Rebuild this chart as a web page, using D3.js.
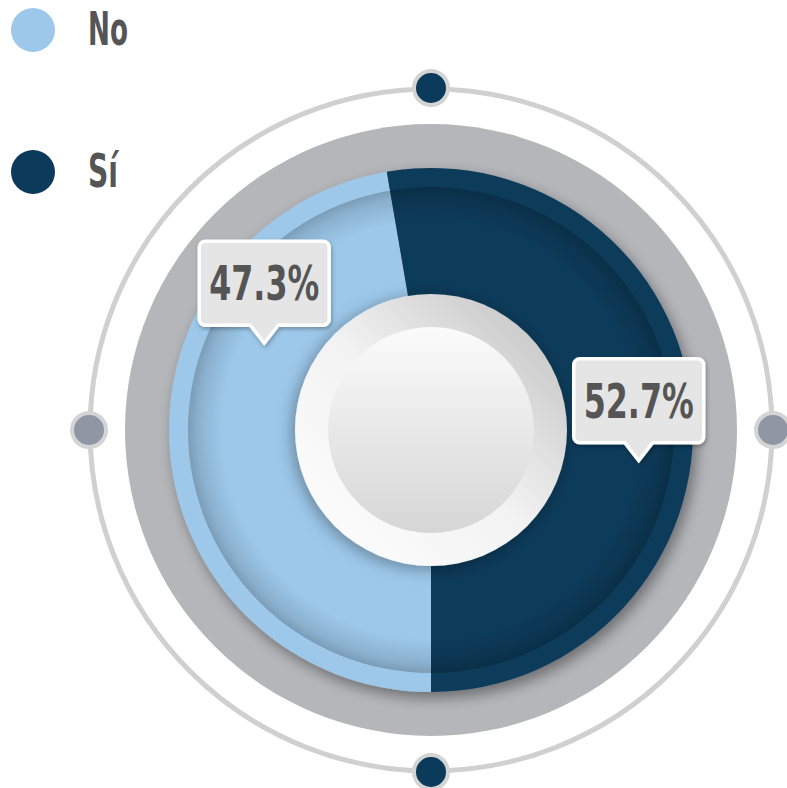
<!DOCTYPE html>
<html><head><meta charset="utf-8">
<script src="https://cdn.jsdelivr.net/npm/d3@7"></script>
<style>html,body{margin:0;padding:0;background:#fff;}svg{display:block;}</style>
</head><body>
<svg id="chart" width="787" height="788"></svg>
<script>
const categories = ["No", "Sí"];
const values = [47.3, 52.7];
const labels = ["47.3%", "52.7%"];
const colors = ["#9dc8ea", "#0b3a5a"];

const svg = d3.select("#chart");
const defs = svg.append("defs");
const cx = 431, cy = 430;
const font = "'Liberation Sans Narrow','DejaVu Sans Condensed','Roboto Condensed',sans-serif";

// gradients & filters
const g1 = defs.append("linearGradient").attr("id","plateOuter").attr("x1","0").attr("y1","1").attr("x2","1").attr("y2","0");
g1.append("stop").attr("offset","0").attr("stop-color","#ffffff");
g1.append("stop").attr("offset","0.5").attr("stop-color","#f2f2f2");
g1.append("stop").attr("offset","1").attr("stop-color","#bdbdbd");
const g2 = defs.append("linearGradient").attr("id","plateInner").attr("x1","0").attr("y1","0").attr("x2","0").attr("y2","1");
g2.append("stop").attr("offset","0").attr("stop-color","#fbfbfb");
g2.append("stop").attr("offset","1").attr("stop-color","#d6d6d6");
const rg = defs.append("radialGradient").attr("id","innerShade").attr("gradientUnits","userSpaceOnUse")
  .attr("cx",0).attr("cy",0).attr("r",243);
rg.append("stop").attr("offset","0.86").attr("stop-color","#000").attr("stop-opacity",0);
rg.append("stop").attr("offset","0.96").attr("stop-color","#000").attr("stop-opacity",0.12);
rg.append("stop").attr("offset","1").attr("stop-color","#000").attr("stop-opacity",0.22);
const f = defs.append("filter").attr("id","shadow").attr("x","-30%").attr("y","-30%").attr("width","160%").attr("height","160%");
f.append("feDropShadow").attr("dx",4).attr("dy",6).attr("stdDeviation",7).attr("flood-color","#000").attr("flood-opacity",0.4);
const f3 = defs.append("filter").attr("id","plateShadow").attr("x","-30%").attr("y","-30%").attr("width","160%").attr("height","160%");
f3.append("feDropShadow").attr("dx",-3).attr("dy",3).attr("stdDeviation",8).attr("flood-color","#000").attr("flood-opacity",0.35);
const f2 = defs.append("filter").attr("id","shadowSm").attr("x","-30%").attr("y","-30%").attr("width","160%").attr("height","160%");
f2.append("feDropShadow").attr("dx",1).attr("dy",2).attr("stdDeviation",2).attr("flood-color","#000").attr("flood-opacity",0.3);

const g = svg.append("g").attr("transform",`translate(${cx},${cy})`);

// thin outer ring
g.append("circle").attr("r",341).attr("fill","none").attr("stroke","#d0d0d0").attr("stroke-width",5);
// gray ring
g.append("circle").attr("r",306).attr("fill","#b5b6ba");

// pie
const pie = d3.pie().sort(null).value(d => d).startAngle(Math.PI).endAngle(3*Math.PI);
const arcs = pie(values);
const arcOuter = d3.arc().innerRadius(120).outerRadius(262);
const donut = g.append("g").attr("filter","url(#shadow)");
donut.selectAll("path.slice").data(arcs).join("path").attr("class","slice")
  .attr("d", arcOuter).attr("fill", (d,i) => colors[i]);
// inner shading band
g.append("circle").attr("r",243).attr("fill","url(#innerShade)");

// center plate
g.append("circle").attr("r",136).attr("fill","url(#plateOuter)").attr("filter","url(#plateShadow)");
g.append("circle").attr("r",103).attr("fill","url(#plateInner)");

// dots on outer ring
const dotAngles = [0, Math.PI/2, Math.PI, 3*Math.PI/2];
const dotFills = ["#0b3a5a", "#8e97a3", "#0b3a5a", "#8e97a3"];
g.selectAll("circle.dot").data(dotAngles).join("circle").attr("class","dot")
  .attr("cx", a => 342*Math.sin(a)).attr("cy", a => -342*Math.cos(a))
  .attr("r",17).attr("fill",(a,i)=>dotFills[i]).attr("stroke","#d4d4d4").attr("stroke-width",4);

// callouts
const fracs = [0.69, 0.57], radii = [188, 210];
const bw = 130, bh = 84, ph = 18, pw = 14, rr = 6;
arcs.forEach((d,i) => {
  const a = d.startAngle + fracs[i]*(d.endAngle - d.startAngle);
  const tx = radii[i]*Math.sin(a), ty = -radii[i]*Math.cos(a);
  const x0 = tx - bw/2, y0 = ty - ph - bh, x1 = tx + bw/2, y1 = ty - ph;
  const p = d3.path();
  p.moveTo(x0+rr,y0); p.lineTo(x1-rr,y0); p.arcTo(x1,y0,x1,y0+rr,rr);
  p.lineTo(x1,y1-rr); p.arcTo(x1,y1,x1-rr,y1,rr);
  p.lineTo(tx+pw,y1); p.lineTo(tx,ty); p.lineTo(tx-pw,y1);
  p.lineTo(x0+rr,y1); p.arcTo(x0,y1,x0,y1-rr,rr);
  p.lineTo(x0,y0+rr); p.arcTo(x0,y0,x0+rr,y0,rr); p.closePath();
  g.append("path").attr("d",p.toString()).attr("fill","#e5e5e5").attr("stroke","#fff").attr("stroke-width",3.5).attr("filter","url(#shadowSm)");
  g.append("text").attr("x",tx).attr("y",y0+bh/2+17).attr("text-anchor","middle")
    .attr("font-family",font).attr("font-weight","bold").attr("font-size",48).attr("fill","#555")
    .attr("textLength",110).attr("lengthAdjust","spacingAndGlyphs").text(labels[i]);
});

// legend
const legW = [40, 30];
const leg = svg.append("g");
categories.forEach((c,i) => {
  const y = 30 + i*142;
  leg.append("circle").attr("cx",33).attr("cy",y).attr("r",22).attr("fill",colors[i]);
  leg.append("text").attr("x",88).attr("y",y+15).attr("font-family",font).attr("font-weight","bold")
    .attr("font-size",46).attr("fill","#555")
    .attr("textLength",legW[i]).attr("lengthAdjust","spacingAndGlyphs").text(c);
});
</script>
</body></html>
